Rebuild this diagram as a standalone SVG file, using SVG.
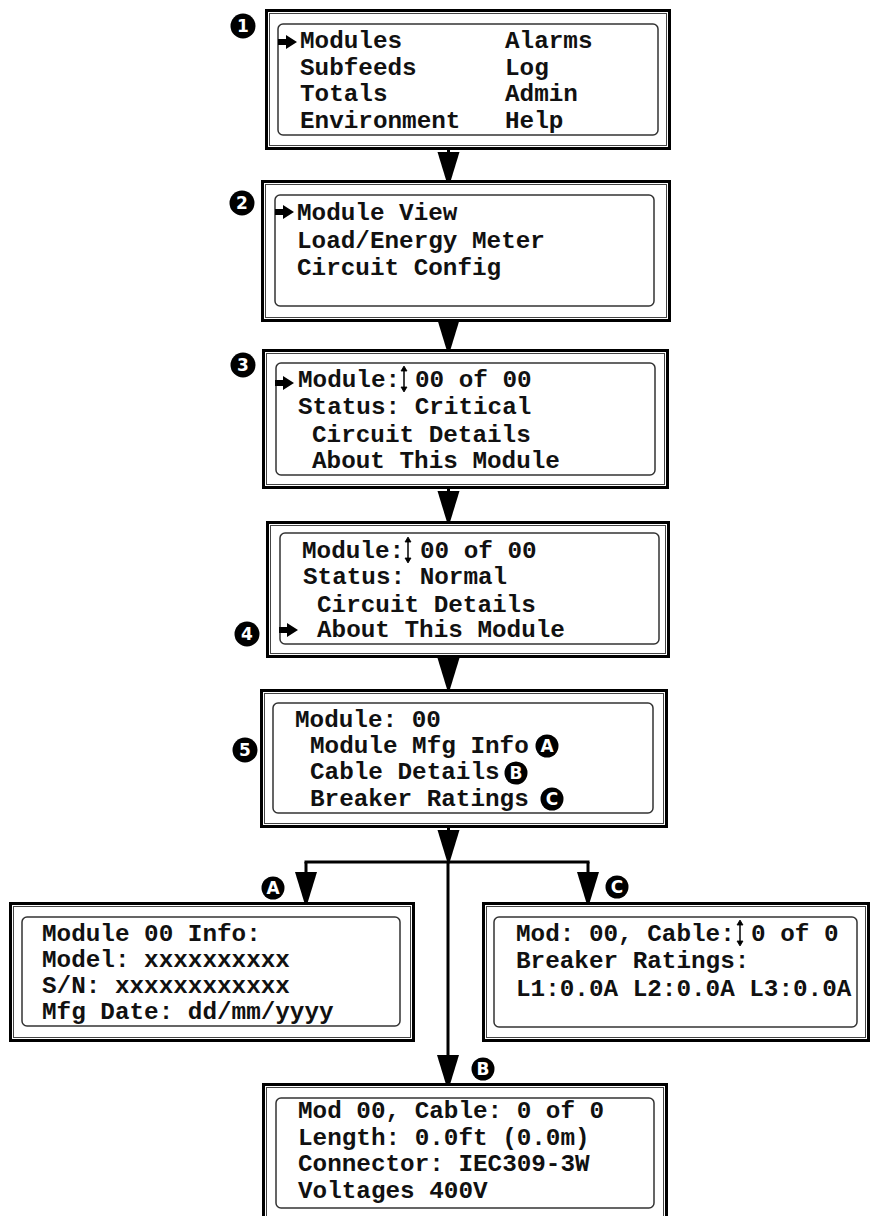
<svg xmlns="http://www.w3.org/2000/svg" xmlns:xlink="http://www.w3.org/1999/xlink" width="873" height="1216" viewBox="0 0 873 1216">
  <style>
    .outer { fill: #fff; stroke: #000; stroke-width: 3; }
    .frame { fill: none; stroke: #444; stroke-width: 1; }
    .screen { fill: none; stroke: #333; stroke-width: 1.5; }
    .t { font-family: "Courier New", "Nimbus Mono PS", "FreeMono", "Liberation Mono", monospace; font-weight: bold; font-size: 24.3px; fill: #111; }
    .badge circle { fill: #000; }
    .badge text { font-family: "DejaVu Sans", "Liberation Sans", sans-serif; font-weight: bold; font-size: 17px; fill: #fff; text-anchor: middle; }
    .wire { stroke: #000; stroke-width: 3; fill: none; }
    .head { fill: #000; }
    .ptr { fill: #000; }
    .updn { stroke: #000; stroke-width: 1.5; fill: #000; }
  </style>
  <defs>
    <!-- flow arrowhead, tip at origin -->
    <path id="head" class="head" d="M-11,-36 L11,-36 L0,0 Z"/>
    <!-- menu cursor, left end at origin -->
    <path id="ptr" class="ptr" d="M0,-3 H8 V-7 L19,0 L8,7 V3 H0 Z"/>
    <!-- scroll indicator -->
    <g id="updn" class="updn">
      <line x1="0" y1="-10" x2="0" y2="10"/>
      <path d="M-3,-8 L0,-13 L3,-8 Z M-3,8 L0,13 L3,8 Z" stroke-width="0.8"/>
    </g>
  </defs>

  <rect width="873" height="1216" fill="#fff"/>

  <!-- connectors -->
  <g id="connectors">
    <line class="wire" x1="448.5" y1="141" x2="448.5" y2="160"/>
    <use href="#head" x="448.5" y="188"/>
    <line class="wire" x1="448.5" y1="312" x2="448.5" y2="330"/>
    <use href="#head" x="448.5" y="356"/>
    <line class="wire" x1="448.5" y1="480" x2="448.5" y2="500"/>
    <use href="#head" x="448.5" y="527"/>
    <line class="wire" x1="448.5" y1="650" x2="448.5" y2="670"/>
    <use href="#head" x="448.5" y="694"/>
    <line class="wire" x1="448.5" y1="822" x2="448.5" y2="840"/>
    <use href="#head" x="448.5" y="866"/>
    <line class="wire" x1="304.5" y1="862" x2="589.5" y2="862"/>
    <line class="wire" x1="448" y1="862" x2="448" y2="1065"/>
    <use href="#head" x="448" y="1091"/>
    <line class="wire" x1="306" y1="862" x2="306" y2="880"/>
    <use href="#head" x="306" y="908"/>
    <line class="wire" x1="588" y1="862" x2="588" y2="880"/>
    <use href="#head" x="588" y="908"/>
  </g>

  <!-- 1: main menu -->
  <g id="main-menu">
    <rect class="outer" x="266.5" y="10.5" width="403" height="138"/>
    <rect class="frame" x="269.5" y="13.5" width="397" height="132"/>
    <rect class="screen" x="278" y="24" width="380" height="111" rx="5"/>
    <use href="#ptr" x="278" y="42"/>
    <text class="t" x="300" y="48">Modules</text>
    <text class="t" x="505" y="48">Alarms</text>
    <text class="t" x="300" y="75">Subfeeds</text>
    <text class="t" x="505" y="75">Log</text>
    <text class="t" x="300" y="101">Totals</text>
    <text class="t" x="505" y="101">Admin</text>
    <text class="t" x="300" y="128">Environment</text>
    <text class="t" x="505" y="128">Help</text>
  </g>

  <!-- 2: modules menu -->
  <g id="modules-menu">
    <rect class="outer" x="262.5" y="181.5" width="407" height="139"/>
    <rect class="frame" x="265.5" y="184.5" width="401" height="133"/>
    <rect class="screen" x="275" y="195" width="379" height="111" rx="5"/>
    <use href="#ptr" x="275" y="212"/>
    <text class="t" x="297" y="220">Module View</text>
    <text class="t" x="297" y="248">Load/Energy Meter</text>
    <text class="t" x="297" y="275">Circuit Config</text>
  </g>

  <!-- 3: module view, critical -->
  <g id="module-critical">
    <rect class="outer" x="263.5" y="350.5" width="404" height="137"/>
    <rect class="frame" x="266.5" y="353.5" width="398" height="131"/>
    <rect class="screen" x="276" y="363" width="379" height="112" rx="5"/>
    <use href="#ptr" x="275" y="383"/>
    <text class="t" x="298" y="387">Module:</text>
    <use href="#updn" x="404" y="379"/>
    <text class="t" x="415" y="387">00 of 00</text>
    <text class="t" x="298" y="414">Status: Critical</text>
    <text class="t" x="312" y="442">Circuit Details</text>
    <text class="t" x="312" y="468">About This Module</text>
  </g>

  <!-- 4: module view, normal -->
  <g id="module-normal">
    <rect class="outer" x="267.5" y="522.5" width="401" height="134"/>
    <rect class="frame" x="270.5" y="525.5" width="395" height="128"/>
    <rect class="screen" x="280" y="533" width="379" height="111" rx="5"/>
    <text class="t" x="302" y="558">Module:</text>
    <use href="#updn" x="408" y="550"/>
    <text class="t" x="420" y="558">00 of 00</text>
    <text class="t" x="303" y="584">Status: Normal</text>
    <text class="t" x="317" y="612">Circuit Details</text>
    <use href="#ptr" x="279" y="630"/>
    <text class="t" x="317" y="637">About This Module</text>
  </g>

  <!-- 5: about this module -->
  <g id="about-module">
    <rect class="outer" x="261.5" y="690.5" width="405" height="136"/>
    <rect class="frame" x="264.5" y="693.5" width="399" height="130"/>
    <rect class="screen" x="273" y="703" width="380" height="110" rx="5"/>
    <text class="t" x="295" y="727">Module: 00</text>
    <text class="t" x="310" y="753">Module Mfg Info</text>
    <text class="t" x="310" y="779">Cable Details</text>
    <text class="t" x="310" y="806">Breaker Ratings</text>
  </g>

  <!-- A: manufacturing info -->
  <g id="mfg-info">
    <rect class="outer" x="10.5" y="903.5" width="403" height="137"/>
    <rect class="frame" x="13.5" y="906.5" width="397" height="131"/>
    <rect class="screen" x="22" y="917" width="378" height="109" rx="5"/>
    <text class="t" x="42" y="941">Module 00 Info:</text>
    <text class="t" x="42" y="967">Model: xxxxxxxxxx</text>
    <text class="t" x="42" y="993">S/N: xxxxxxxxxxxx</text>
    <text class="t" x="42" y="1019">Mfg Date: dd/mm/yyyy</text>
  </g>

  <!-- C: breaker ratings -->
  <g id="breaker-ratings">
    <rect class="outer" x="483.5" y="903.5" width="385" height="137"/>
    <rect class="frame" x="486.5" y="906.5" width="379" height="131"/>
    <rect class="screen" x="494" y="917" width="363" height="110" rx="5"/>
    <text class="t" x="516" y="941">Mod: 00, Cable:</text>
    <use href="#updn" x="740" y="933"/>
    <text class="t" x="751" y="941">0 of 0</text>
    <text class="t" x="516" y="968">Breaker Ratings:</text>
    <text class="t" x="516" y="996">L1:0.0A L2:0.0A L3:0.0A</text>
  </g>

  <!-- B: cable details -->
  <g id="cable-details">
    <rect class="outer" x="263.5" y="1084.5" width="403" height="140"/>
    <rect class="frame" x="266.5" y="1087.5" width="397" height="134"/>
    <rect class="screen" x="276" y="1098" width="378" height="110" rx="5"/>
    <text class="t" x="298" y="1118">Mod 00, Cable: 0 of 0</text>
    <text class="t" x="298" y="1145">Length: 0.0ft (0.0m)</text>
    <text class="t" x="298" y="1171">Connector: IEC309-3W</text>
    <text class="t" x="298" y="1198">Voltages 400V</text>
  </g>

  <!-- step and option badges -->
  <g id="badge-1" class="badge"><circle cx="243" cy="26" r="12.5"/><text x="243" y="32">1</text></g>
  <g id="badge-2" class="badge"><circle cx="242" cy="203" r="12.5"/><text x="242" y="209">2</text></g>
  <g id="badge-3" class="badge"><circle cx="243" cy="365" r="12.5"/><text x="243" y="371">3</text></g>
  <g id="badge-4" class="badge"><circle cx="247" cy="634" r="12.5"/><text x="247" y="640">4</text></g>
  <g id="badge-5" class="badge"><circle cx="245" cy="750" r="12.5"/><text x="245" y="756">5</text></g>
  <g id="badge-a1" class="badge"><circle cx="547" cy="746" r="11.5"/><text x="547" y="752">A</text></g>
  <g id="badge-b1" class="badge"><circle cx="516" cy="773" r="11.5"/><text x="516" y="779">B</text></g>
  <g id="badge-c1" class="badge"><circle cx="552" cy="799" r="11.5"/><text x="552" y="805">C</text></g>
  <g id="badge-a2" class="badge"><circle cx="273" cy="888" r="11.5"/><text x="273" y="894">A</text></g>
  <g id="badge-c2" class="badge"><circle cx="617" cy="887" r="11.5"/><text x="617" y="893">C</text></g>
  <g id="badge-b2" class="badge"><circle cx="483" cy="1069" r="11.5"/><text x="483" y="1075">B</text></g>
</svg>
